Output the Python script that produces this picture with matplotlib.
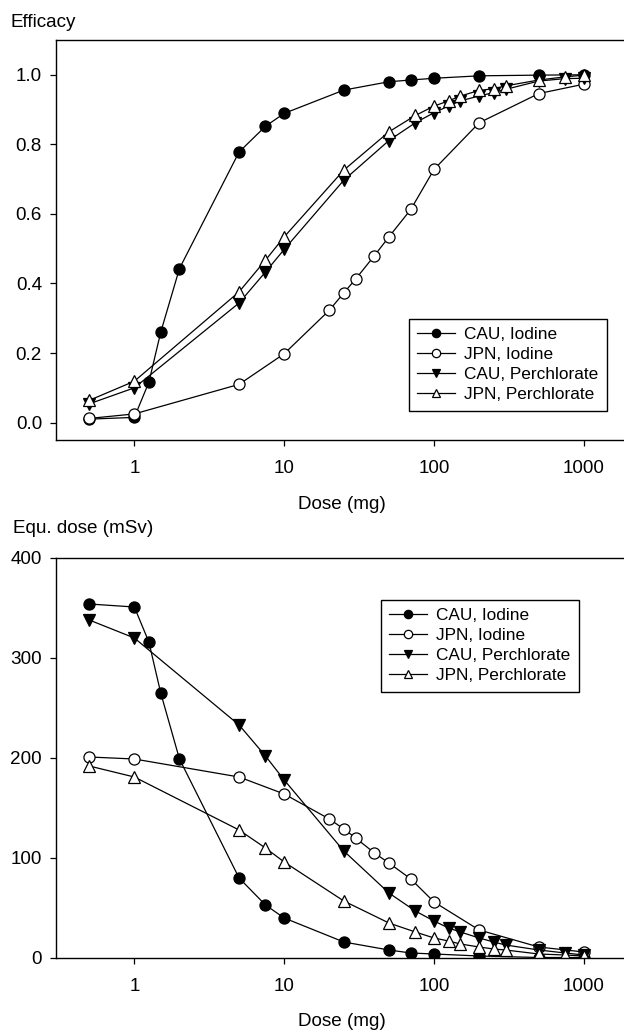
import matplotlib
matplotlib.use('Agg')
from matplotlib import pyplot as plt

plt.rcParams['font.family'] = ['Liberation Sans', 'DejaVu Sans']

# --- Efficacy (top panel) ---
eff_cau_iod_x = [0.5, 1, 1.25, 1.5, 2, 5, 7.5, 10, 25, 50, 70, 100, 200, 500, 1000]
eff_cau_iod_y = [0.01, 0.015, 0.116, 0.26, 0.443, 0.778, 0.852, 0.889, 0.956, 0.98,
                 0.985, 0.99, 0.997, 0.999, 1.0]

eff_jpn_iod_x = [0.5, 1, 5, 10, 20, 25, 30, 40, 50, 70, 100, 200, 500, 1000]
eff_jpn_iod_y = [0.012, 0.025, 0.11, 0.198, 0.323, 0.373, 0.413, 0.48, 0.534, 0.613,
                 0.728, 0.862, 0.946, 0.973]

eff_cau_per_x = [0.5, 1, 5, 7.5, 10, 25, 50, 75, 100, 125, 150, 200, 250, 300, 500, 750, 1000]
eff_cau_per_y = [0.054, 0.1, 0.344, 0.433, 0.498, 0.697, 0.811, 0.862, 0.891, 0.91,
                 0.925, 0.939, 0.949, 0.958, 0.982, 0.989, 0.99]

eff_jpn_per_x = [0.5, 1, 5, 7.5, 10, 25, 50, 75, 100, 125, 150, 200, 250, 300, 500, 750, 1000]
eff_jpn_per_y = [0.064, 0.119, 0.376, 0.467, 0.534, 0.726, 0.836, 0.883, 0.91, 0.925,
                 0.939, 0.955, 0.96, 0.968, 0.985, 0.994, 0.999]

# --- Equivalent dose (bottom panel) ---
dose_cau_iod_x = [0.5, 1, 1.25, 1.5, 2, 5, 7.5, 10, 25, 50, 70, 100, 200, 500, 1000]
dose_cau_iod_y = [354, 351, 316, 265, 199, 80, 53, 40, 16, 8, 5, 4, 2, 0.5, 0.5]

dose_jpn_iod_x = [0.5, 1, 5, 10, 20, 25, 30, 40, 50, 70, 100, 200, 500, 1000]
dose_jpn_iod_y = [201, 199, 181, 164, 139, 129, 120, 105, 95, 79, 56, 28, 11, 6]

dose_cau_per_x = [0.5, 1, 5, 7.5, 10, 25, 50, 75, 100, 125, 150, 200, 250, 300, 500, 750, 1000]
dose_cau_per_y = [338, 320, 233, 202, 178, 107, 65, 47, 37, 30, 26, 20, 16, 13, 8, 5, 3]

dose_jpn_per_x = [0.5, 1, 5, 7.5, 10, 25, 50, 75, 100, 125, 150, 200, 250, 300, 500, 750, 1000]
dose_jpn_per_y = [192, 181, 128, 110, 96, 57, 35, 26, 20, 17, 14, 11, 9, 8, 4, 3, 2]

labels = ['CAU, Iodine', 'JPN, Iodine', 'CAU, Perchlorate', 'JPN, Perchlorate']
styles = [dict(marker='o', mfc='black', ms=8),
          dict(marker='o', mfc='white', ms=8),
          dict(marker='v', mfc='black', ms=8.5),
          dict(marker='^', mfc='white', ms=8.5)]

W, H = 624, 1033
fig = plt.figure(figsize=(W / 100, H / 100), dpi=100)

FS = 13.6


def make_panel(top_px, series, ylim, yticks, yfmt, legend_xy):
    ax = fig.add_axes([56 / W, 1 - (top_px + 400) / H, 573 / W, 400 / H])
    for (xs, ys), lab, st in zip(series, labels, styles):
        ax.plot(xs, ys, color='black', lw=0.9, mec='black', mew=0.9, label=lab, **st)
    ax.set_xscale('log')
    ax.set_xlim(0.3, 2000)
    ax.set_ylim(*ylim)
    ax.set_xticks([1, 10, 100, 1000])
    ax.set_xticklabels(['1', '10', '100', '1000'])
    ax.minorticks_off()
    ax.set_yticks(yticks)
    ax.set_yticklabels([yfmt.format(v) for v in yticks])
    ax.tick_params(direction='out', length=4, width=0.9, labelsize=FS)
    ax.tick_params(axis='x', pad=10.5)
    ax.tick_params(axis='y', pad=6)
    for s in ax.spines.values():
        s.set_linewidth(1.0)
    leg = ax.legend(loc='upper left', bbox_to_anchor=(legend_xy[0] / W, 1 - legend_xy[1] / H),
                    bbox_transform=fig.transFigure, fontsize=12.4, frameon=True,
                    fancybox=False, framealpha=1, edgecolor='black', markerscale=0.75,
                    handlelength=2.2, handletextpad=0.5, labelspacing=0.28,
                    borderpad=0.5)
    leg.get_frame().set_linewidth(1.0)
    return ax


make_panel(40,
           [(eff_cau_iod_x, eff_cau_iod_y), (eff_jpn_iod_x, eff_jpn_iod_y),
            (eff_cau_per_x, eff_cau_per_y), (eff_jpn_per_x, eff_jpn_per_y)],
           (-0.05, 1.1), [0.0, 0.2, 0.4, 0.6, 0.8, 1.0], '{:.1f}', (400, 310))

make_panel(558,
           [(dose_cau_iod_x, dose_cau_iod_y), (dose_jpn_iod_x, dose_jpn_iod_y),
            (dose_cau_per_x, dose_cau_per_y), (dose_jpn_per_x, dose_jpn_per_y)],
           (0, 400), [0, 100, 200, 300, 400], '{:.0f}', (372, 591))

fig.text(10 / W, 1 - 27 / H, 'Efficacy', fontsize=FS, va='baseline', ha='left')
fig.text(342 / W, 1 - 509 / H, 'Dose (mg)', fontsize=FS, va='baseline', ha='center')
fig.text(13 / W, 1 - 533 / H, 'Equ. dose (mSv)', fontsize=FS, va='baseline', ha='left')
fig.text(342 / W, 1 - 1026 / H, 'Dose (mg)', fontsize=FS, va='baseline', ha='center')

fig.savefig('out.png', dpi=100)
